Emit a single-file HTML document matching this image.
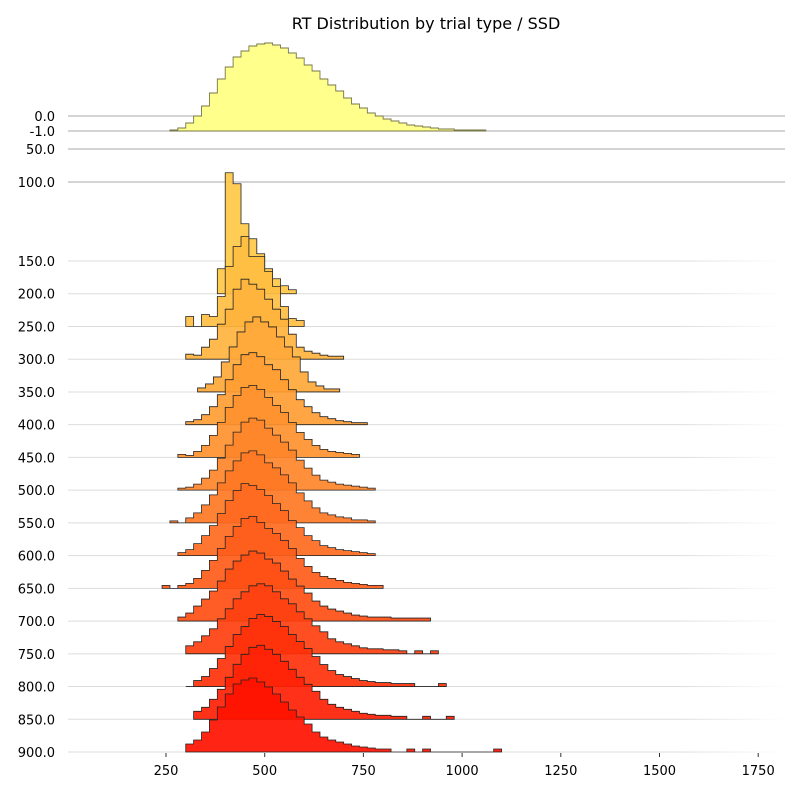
<!DOCTYPE html>
<html><head><meta charset="utf-8"><style>
body{margin:0;background:#fff;font-family:"DejaVu Sans","Liberation Sans",sans-serif}
</style></head><body>
<svg id="chart" width="800" height="800" xmlns="http://www.w3.org/2000/svg" font-family="DejaVu Sans, Liberation Sans, sans-serif">
<text x="426" y="29" font-size="16" text-anchor="middle">RT Distribution by trial type / SSD</text>
<defs><linearGradient id="fade" x1="0" x2="1"><stop offset="0" stop-color="#ddd"/><stop offset="1" stop-color="#fff"/></linearGradient></defs>
<g id="grid"></g><g id="marks"></g><g id="axes"></g>
</svg>
<script>
const xTicks=[250,500,750,1000,1250,1500,1750];
const rowLabels=["0.0","-1.0","50.0","100.0","150.0","200.0","250.0","300.0","350.0","400.0","450.0","500.0","550.0","600.0","650.0","700.0","750.0","800.0","850.0","900.0"];
const goHist=[1,3,8,15,25,38,52,64,74,80,85,87,88,86,83,78,73,66,60,52,46,40,33,27,23,18,15,12,10,8,6,5,4,3,2,2,1,1,1,1];
const goStart=260;
const ssdRows=[200,250,300,350,400,450,500,550,600,650,700,750,800,850,900];
const ssdStarts=[380,300,300,330,300,280,280,260,280,240,280,300,300,320,300];
const ssdCounts=[
[25,121,110,70,55,40,25,15,8,4],
[10,0,12,10,30,60,80,90,70,70,55,40,20,8,6],
[5,4,12,20,35,50,70,80,75,70,60,50,40,25,12,8,6,4,3,3],
[4,8,15,30,45,60,70,75,70,65,55,45,35,20,10,6,3,3],
[3,5,10,18,30,45,60,70,72,68,60,55,45,35,25,18,12,8,6,4,3,2,2],
[3,2,6,12,22,35,50,62,70,72,68,60,52,45,35,25,18,12,8,6,5,4,3],
[2,3,6,12,20,32,45,58,68,72,70,62,55,48,40,30,22,15,10,8,6,5,4,3,2],
[2,0,5,10,18,28,40,52,62,70,72,68,60,55,48,40,30,22,15,10,8,6,5,3,3,2],
[3,6,12,20,30,42,55,65,72,70,66,60,52,45,35,28,20,15,10,8,6,5,4,3,2],
[3,0,3,5,10,18,28,40,52,62,70,72,66,60,55,48,40,30,22,16,12,10,8,6,5,4,3,3],
[4,8,15,22,30,40,52,60,66,70,68,62,58,50,42,35,28,20,15,12,10,8,6,5,4,4,4,3,3,3,3,3],
[8,12,18,25,35,45,55,62,68,70,68,62,55,50,42,35,28,22,15,12,10,8,6,5,5,4,4,3,0,3,0,3],
[0,6,10,18,28,40,52,60,68,72,70,65,60,52,45,38,30,22,16,12,10,8,6,5,4,4,3,3,3,0,0,0,3],
[8,12,20,30,42,55,65,72,74,70,65,58,50,42,35,28,20,15,12,10,8,6,5,4,4,3,3,0,0,3,0,0,3],
[8,12,20,32,45,58,68,72,74,70,65,58,50,42,35,28,20,15,12,10,8,6,5,4,3,3,0,0,3,0,3,0,0,0,0,0,0,0,0,3]
];
const binW=20;
const NS="http://www.w3.org/2000/svg";
function xs(v){return 67.3+v*0.3948;}
const labelY={"0.0":116,"-1.0":131,"50.0":149,"100.0":182};
function rowY(s){return 261+(s-150)*0.6547;}
function yOfLabel(l){return l in labelY?labelY[l]:rowY(parseFloat(l));}
const grid=document.getElementById('grid'),marks=document.getElementById('marks'),axes=document.getElementById('axes');
rowLabels.forEach(l=>{
 const y=yOfLabel(l);const top=(l in labelY);
 const ln=document.createElementNS(NS,'line');
 ln.setAttribute('x1',68);ln.setAttribute('x2',top?785:680);ln.setAttribute('y1',y);ln.setAttribute('y2',y);
 ln.setAttribute('stroke',top?'#aaa':'#ddd');ln.setAttribute('stroke-width',1);
 
 
 grid.appendChild(ln);
 if(!top){const r=document.createElementNS(NS,'rect');r.setAttribute('x',680);r.setAttribute('y',y-0.5);r.setAttribute('width',105);r.setAttribute('height',1);r.setAttribute('fill','url(#fade)');grid.appendChild(r);}
 const t=document.createElementNS(NS,'text');
 t.setAttribute('x',55);t.setAttribute('y',y+5);t.setAttribute('text-anchor','end');t.setAttribute('font-size','13');
 t.textContent=l;
 
 
 axes.appendChild(t);
});
xTicks.forEach(v=>{
 const t=document.createElementNS(NS,'text');
 t.setAttribute('x',xs(v));t.setAttribute('y',775);t.setAttribute('text-anchor','middle');t.setAttribute('font-size','13');
 t.textContent=v;
 
 
 axes.appendChild(t);
 const tk=document.createElementNS(NS,'line');
 tk.setAttribute('x1',xs(v));tk.setAttribute('x2',xs(v));tk.setAttribute('y1',753);tk.setAttribute('y2',757);tk.setAttribute('stroke','#333');
 axes.appendChild(tk);
});
function stepPath(start,counts,base){
 let d='M'+xs(start)+','+base;
 counts.forEach((c,i)=>{const x0=xs(start+i*binW),x1=xs(start+(i+1)*binW);d+=' L'+x0+','+(base-c)+' L'+x1+','+(base-c);});
 d+=' L'+xs(start+counts.length*binW)+','+base+' Z';return d;
}
const gp=document.createElementNS(NS,'path');
gp.setAttribute('d',stepPath(goStart,goHist,131));
gp.setAttribute('fill','#ffff8c');gp.setAttribute('stroke','#77774a');gp.setAttribute('stroke-width','0.9');


marks.appendChild(gp);
ssdRows.forEach((s,k)=>{
 const f=k/(ssdRows.length-1);
 const hue=42-38*f,light=64-14*f;
 const p=document.createElementNS(NS,'path');
 p.setAttribute('d',stepPath(ssdStarts[k],ssdCounts[k],rowY(s)));
 p.setAttribute('fill','hsl('+hue+',100%,'+light+'%)');p.setAttribute('fill-opacity','0.92');
 p.setAttribute('stroke','#222');p.setAttribute('stroke-width','0.8');
 
 
 marks.appendChild(p);
});
</script>
</body></html>
